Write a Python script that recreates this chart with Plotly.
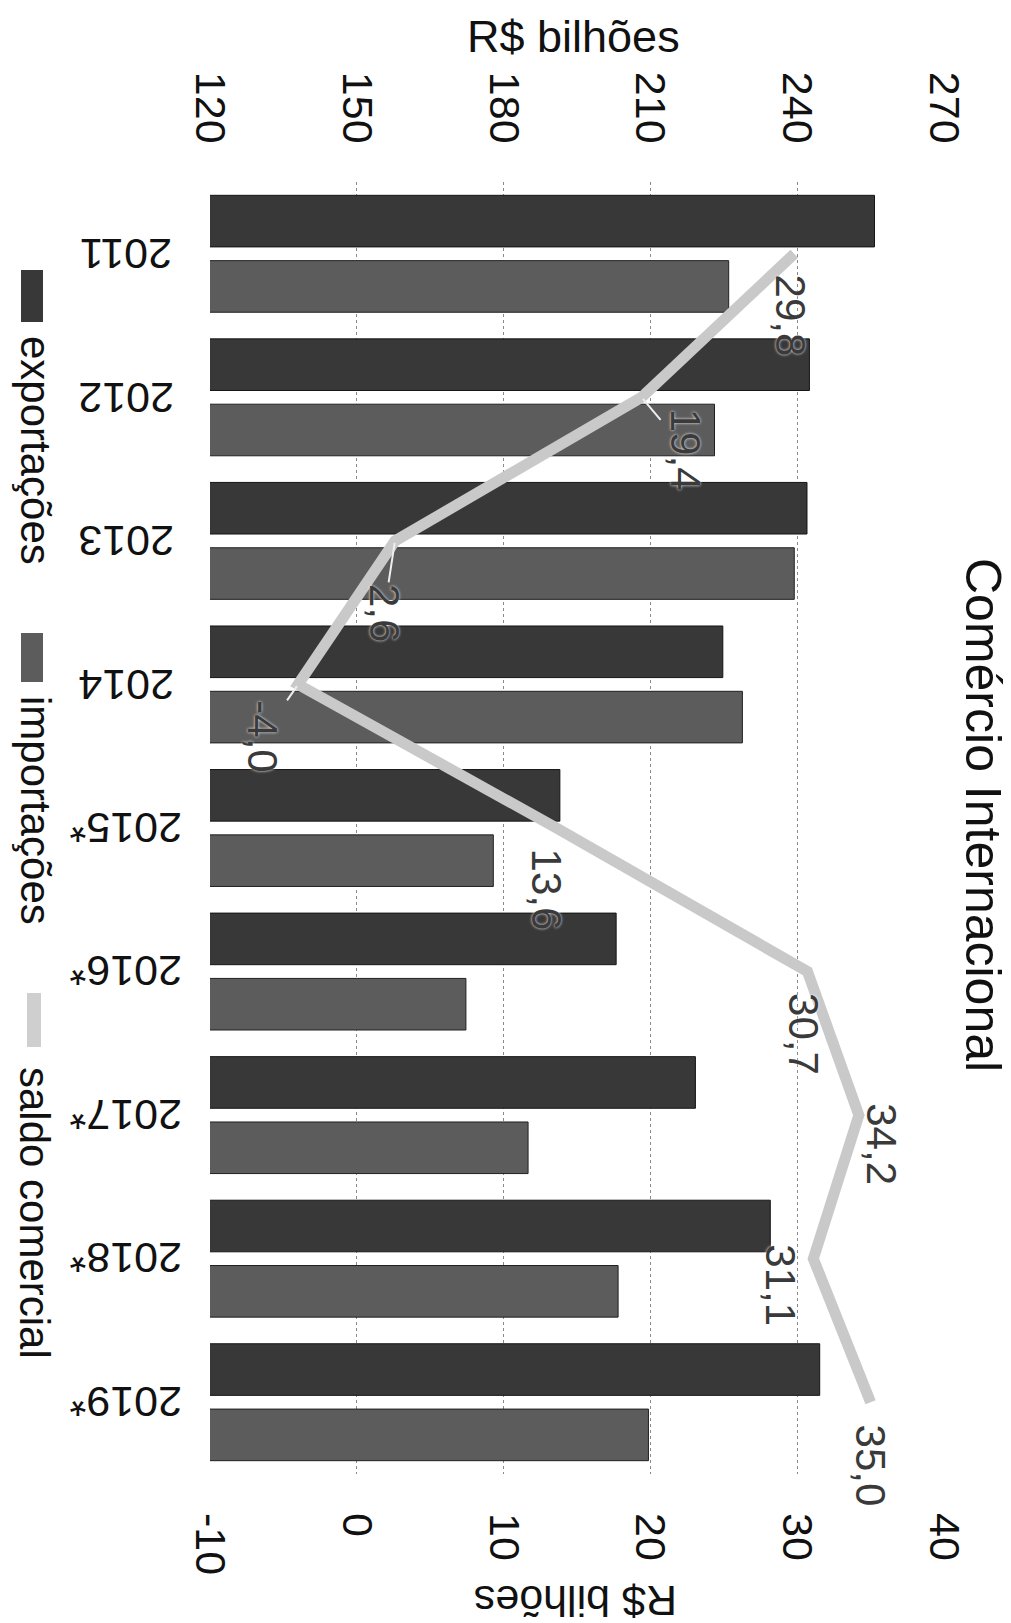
import plotly.graph_objects as go

categories = ["2011", "2012", "2013", "2014", "2015*", "2016*", "2017*", "2018*", "2019*"]
exportacoes = [255.8, 242.5, 242.0, 224.8, 191.5, 203.0, 219.2, 234.5, 244.6]
importacoes = [226.0, 223.1, 239.4, 228.8, 177.9, 172.3, 185.0, 203.4, 209.6]
saldo = [29.8, 19.4, 2.6, -4.0, 13.6, 30.7, 34.2, 31.1, 35.0]
saldo_labels = ["29,8", "19,4", "2,6", "-4,0", "13,6", "30,7", "34,2", "31,1", "35,0"]
primary_ticks = [120, 150, 180, 210, 240, 270]
secondary_ticks = [-10, 0, 10, 20, 30, 40]
secondary_ticktext = ["-10", "0", "10", "20", "30", "40"]

W, H = 1011, 1623
L, R, T, B = 202, 936, 174, 1466
FONT = "Liberation Sans, Arial, sans-serif"

pos = list(range(len(categories)))  # category slots on the band axis


def px(x):
    return (x - L) / (R - L)


def py(y):
    return (B - y) / (B - T)


fig = go.Figure()
fig.add_trace(go.Bar(
    y=pos, x=exportacoes, orientation="h", name="exportações",
    marker=dict(color="#383838", line=dict(color="#151515", width=1)),
    xaxis="x", yaxis="y",
))
fig.add_trace(go.Bar(
    y=pos, x=importacoes, orientation="h", name="importações",
    marker=dict(color="#5c5c5c", line=dict(color="#202020", width=1)),
    xaxis="x", yaxis="y",
))
fig.add_trace(go.Scatter(
    y=pos, x=saldo, mode="lines", name="saldo comercial",
    line=dict(color="#c9c9c9", width=11),
    xaxis="x2", yaxis="y",
))

# data label offsets (pixels) and whether a leader line is drawn
label_offsets = [(-4, 62, False), (44, 52, True), (-11, 72, True), (-36, 52, True),
                 (-9, 62, False), (-4, 63, False), (23, 29, False), (-33, 27, False),
                 (0, 63, False)]
annotations = []
for p, val, txt, (dx, dy, leader) in zip(pos, saldo, saldo_labels, label_offsets):
    annotations.append(dict(
        x=val, y=p, xref="x2", yref="y", text=txt, textangle=90,
        showarrow=True, ax=dx, ay=dy, arrowhead=0, arrowwidth=2,
        arrowcolor="#eeeeee" if leader else "rgba(0,0,0,0)", standoff=2,
        font=dict(family=FONT, size=42, color="#3a3a3a", shadow="0px 0px 3px white"),
    ))

# category labels (upside down)
for p, cat in zip(pos, categories):
    annotations.append(dict(
        x=px(118), y=p, xref="paper", yref="y", text=cat, textangle=180,
        showarrow=False, xanchor="center", yanchor="middle",
        font=dict(family=FONT, size=43, color="#111111"),
    ))

# titles
annotations.append(dict(x=px(975), y=py(807), xref="paper", yref="paper",
                        xanchor="center", yanchor="middle",
                        text="Comércio Internacional", textangle=90, showarrow=False,
                        font=dict(family=FONT, size=50, color="#111111")))
annotations.append(dict(x=px(565), y=py(28), xref="paper", yref="paper",
                        xanchor="center", yanchor="middle",
                        text="R$ bilhões", showarrow=False,
                        font=dict(family=FONT, size=45, color="#111111")))
annotations.append(dict(x=px(568), y=py(1593), xref="paper", yref="paper",
                        xanchor="center", yanchor="middle",
                        text="R$ bilhões", textangle=180, showarrow=False,
                        font=dict(family=FONT, size=43, color="#111111")))

# legend (rotated)
legend_items = [("exportações", 442, (262, 314), "#383838", 13, 35),
                ("importações", 802, (625, 674), "#5c5c5c", 13, 35),
                ("saldo comercial", 1205, (985, 1039), "#cfcfcf", 19, 33)]
shapes = []
for name, yc, (y0, y1), col, x0, x1 in legend_items:
    annotations.append(dict(x=px(27), y=py(yc), xref="paper", yref="paper",
                            xanchor="center", yanchor="middle",
                            text=name, textangle=90, showarrow=False,
                            font=dict(family=FONT, size=42, color="#111111")))
    shapes.append(dict(type="rect", xref="paper", yref="paper",
                       x0=px(x0), x1=px(x1), y0=py(y1), y1=py(y0),
                       fillcolor=col, line=dict(width=0)))

fig.update_layout(
    width=W, height=H,
    margin=dict(l=L, r=W - R, t=T, b=H - B, autoexpand=False),
    paper_bgcolor="white", plot_bgcolor="white",
    barmode="group", bargap=0.09, bargroupgap=0.21,
    showlegend=False,
    font=dict(family=FONT, color="#111111"),
    xaxis=dict(range=[120, 270], side="top", tickvals=primary_ticks, tickangle=90,
               tickfont=dict(size=43, family=FONT, color="#111111"),
               showgrid=True, gridcolor="#8a8a8a", griddash="dot", gridwidth=1,
               zeroline=False, showline=False, ticks="", ticklabelstandoff=31),
    xaxis2=dict(range=[-10, 40], side="bottom", overlaying="x", anchor="y",
                tickvals=secondary_ticks, ticktext=secondary_ticktext, tickangle=90,
                tickfont=dict(size=43, family=FONT, color="#111111"),
                showgrid=False, zeroline=False, showline=False, ticks="",
                ticklabelstandoff=38),
    yaxis=dict(range=[len(categories) - 0.5, -0.5], tickvals=pos, ticktext=categories,
               showticklabels=False, showgrid=False, zeroline=False, showline=False),
    annotations=annotations, shapes=shapes,
)

fig.write_html("out.html")
